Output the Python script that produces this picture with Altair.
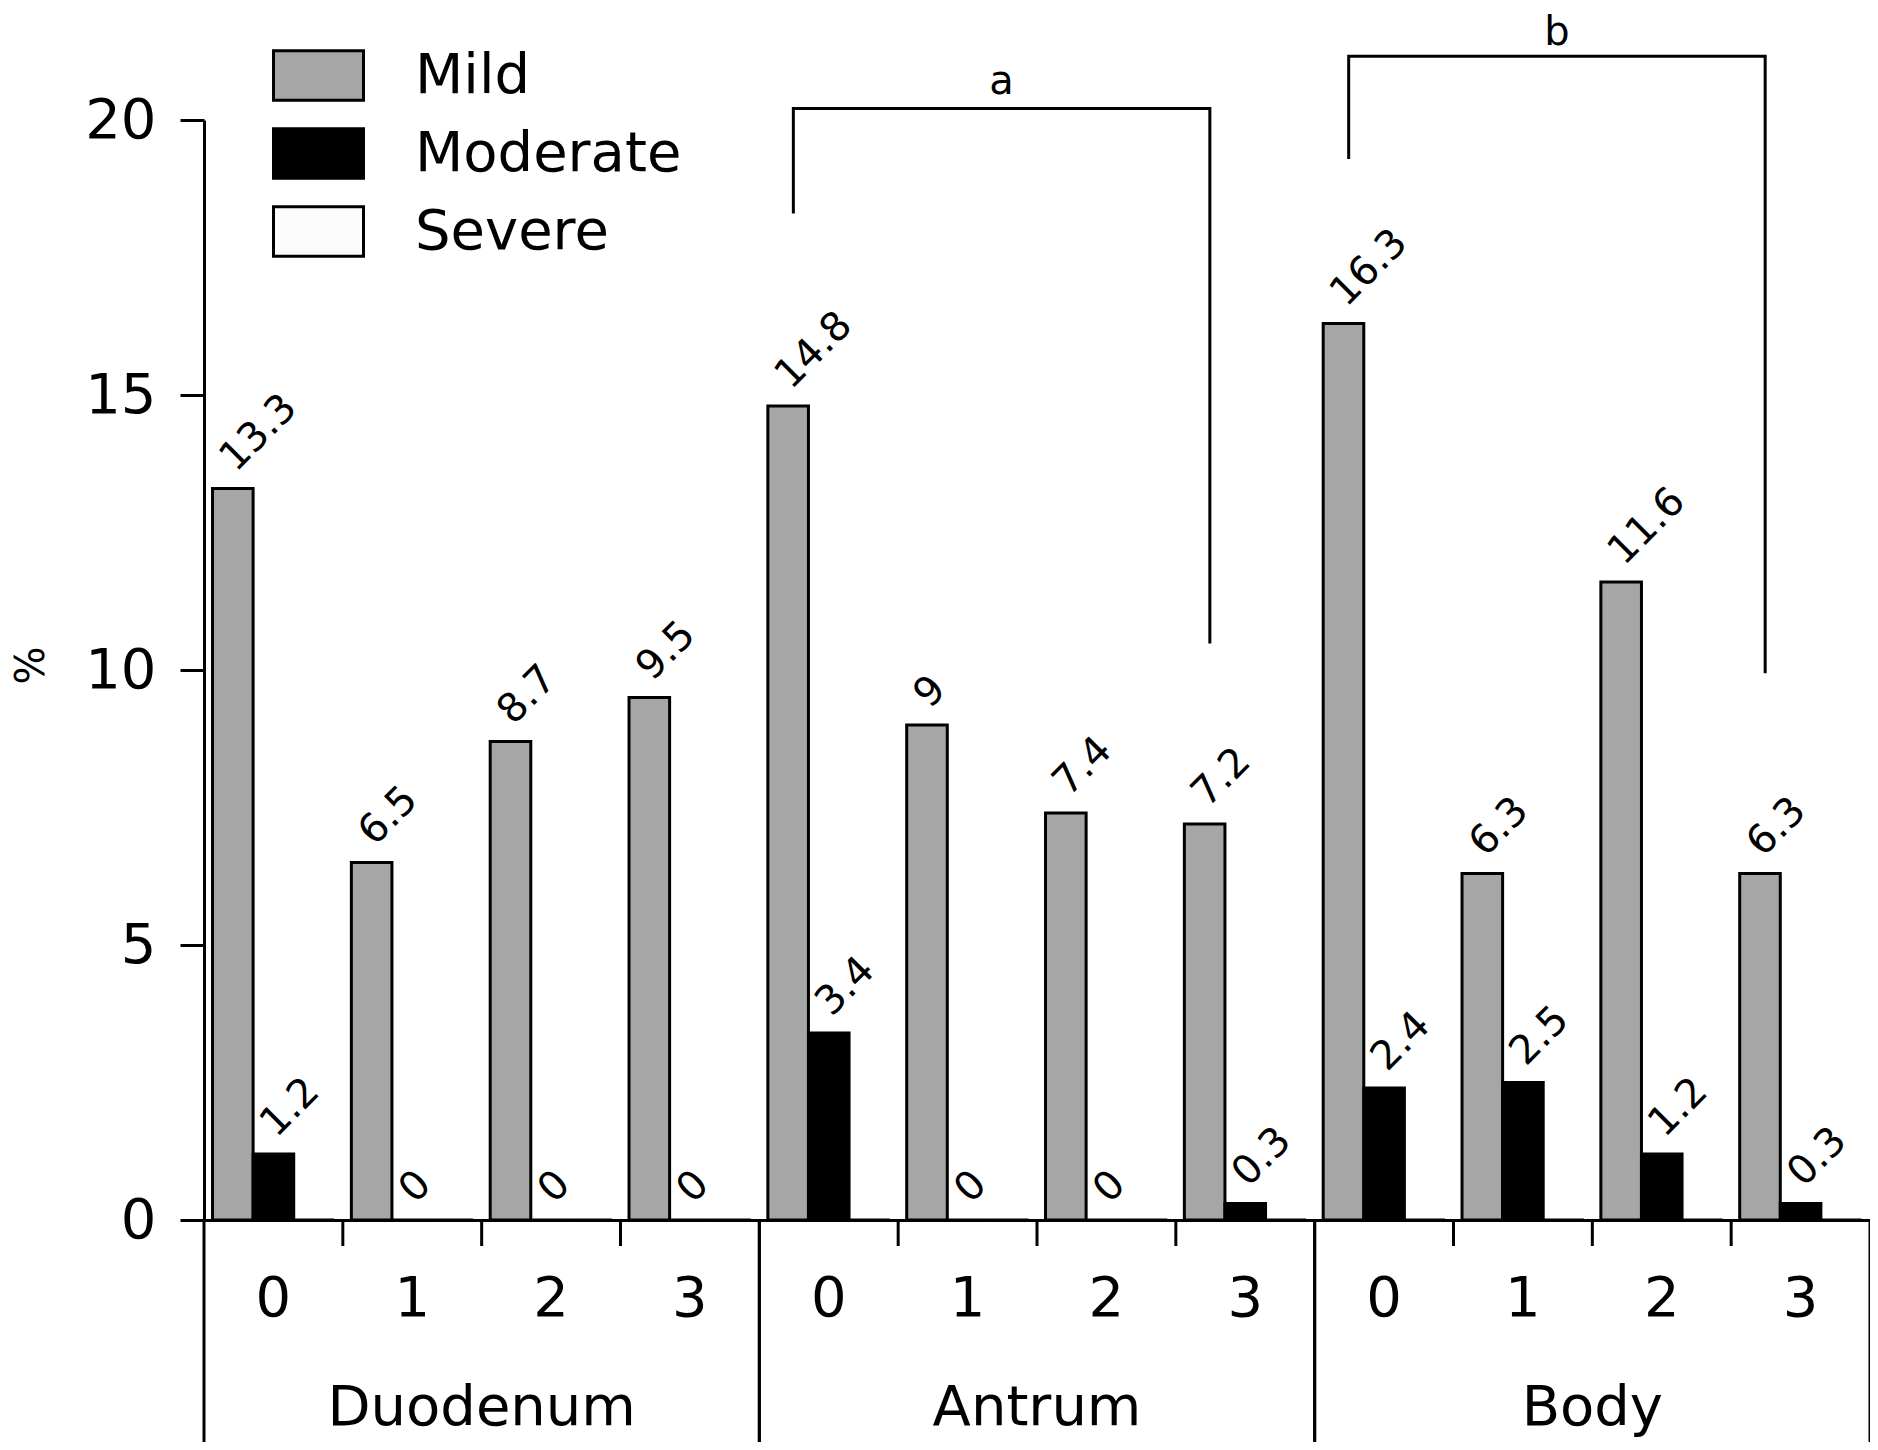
import altair as alt
import pandas as pd

# ---------------- data ----------------
sites = ["Duodenum", "Antrum", "Body"]
grades = ["0", "1", "2", "3"]
severities = ["Mild", "Moderate", "Severe"]
mild = [13.3, 6.5, 8.7, 9.5, 14.8, 9, 7.4, 7.2, 16.3, 6.3, 11.6, 6.3]
moderate = [1.2, 0, 0, 0, 3.4, 0, 0, 0.3, 2.4, 2.5, 1.2, 0.3]
severe = [0, 0, 0, 0, 0, 0, 0, 0, 0, 0, 0, 0]
colors = ["#a6a6a6", "#000000", "#fcfcfc"]
y_ticks = [0, 5, 10, 15, 20]

bracket_names = ["a", "b"]
bracket_from = ["Antrum|0", "Body|0"]
bracket_to = ["Antrum|3", "Body|3"]
bracket_mid = ["Antrum|1", "Body|1"]
bracket_top = [20.21, 21.16]
bracket_from_end = [18.30, 19.29]
bracket_to_end = [10.48, 9.94]
bracket_text_y = [20.47, 21.36]

# ---------------- tables ----------------
cells = [f"{s}|{g}" for s in sites for g in grades]
cell_site = [s for s in sites for g in grades]
cell_grade = [g for s in sites for g in grades]

rows = []
for sev, vals in zip(severities, [mild, moderate, severe]):
    for c, v in zip(cells, vals):
        rows.append({"cell": c, "severity": sev, "value": v, "label": f"{v:g}"})
bars_df = pd.DataFrame(rows)
shown_df = bars_df[bars_df["severity"] != "Severe"]

cells_df = pd.DataFrame({"cell": cells, "site": cell_site, "grade": cell_grade, "base": 0})

br_rows = []
for n, a, b, t, ea, eb in zip(bracket_names, bracket_from, bracket_to, bracket_top,
                              bracket_from_end, bracket_to_end):
    br_rows += [
        {"br": n, "k": 0, "cell": a, "v": ea},
        {"br": n, "k": 1, "cell": a, "v": t},
        {"br": n, "k": 2, "cell": b, "v": t},
        {"br": n, "k": 3, "cell": b, "v": eb},
    ]
br_df = pd.DataFrame(br_rows)
brt_df = pd.DataFrame({"cell": bracket_mid, "name": bracket_names, "v": bracket_text_y})

# ---------------- layout ----------------
W, H = 1666, 1100
FONT = "DejaVu Sans"

xscale = alt.Scale(domain=cells, paddingInner=0, paddingOuter=0)
xaxis = alt.Axis(title=None, ticks=False, labelExpr="split(datum.label, '|')[1]",
                 labelAngle=0, labelFontSize=56, labelFont=FONT, labelColor="black",
                 labelPadding=78, labelBaseline="middle", domainColor="black",
                 domainWidth=3, grid=False)
yscale = alt.Scale(domain=[0, 20], nice=False, zero=True)
yaxis = alt.Axis(title="%", values=y_ticks, tickSize=24, tickWidth=3, tickColor="black",
                 domainColor="black", domainWidth=3, labelFontSize=56, labelFont=FONT,
                 labelColor="black", labelPadding=24, grid=False,
                 titleFontSize=40, titleFont=FONT, titleFontWeight="normal",
                 titleColor="black", titleAngle=270, titleX=-173, titleY=545,
                 titleAlign="center", titleBaseline="middle")

X = alt.X("cell:N", scale=xscale, axis=xaxis)
XO = alt.XOffset("severity:N", scale=alt.Scale(domain=severities, paddingInner=0,
                                                 paddingOuter=0.21))

bars = alt.Chart(bars_df).mark_bar(stroke="black", strokeWidth=3).encode(
    x=X,
    xOffset=XO,
    y=alt.Y("value:Q", scale=yscale, axis=yaxis, stack=None),
    color=alt.Color("severity:N",
                    scale=alt.Scale(domain=severities, range=colors),
                    legend=alt.Legend(orient="none", legendX=68, legendY=-91, title=None,
                                      direction="vertical", padding=0,
                                      symbolType="M-1,-0.55H1V0.55H-1Z", symbolSize=8100,
                                      symbolStrokeColor="black", symbolStrokeWidth=3,
                                      symbolOpacity=1, labelFontSize=56, labelFont=FONT,
                                      labelColor="black", labelOffset=50, labelLimit=0,
                                      rowPadding=-5)),
)

labels = alt.Chart(shown_df).mark_text(angle=315, align="left", baseline="alphabetic",
                                       dx=13, dy=-9, fontSize=40, font=FONT,
                                       color="black").encode(
    x=X,
    xOffset=XO,
    y=alt.Y("value:Q", scale=yscale, axis=yaxis),
    text="label:N",
)

Ybase = alt.Y("base:Q", scale=yscale, axis=yaxis)

short_ticks = alt.Chart(cells_df).transform_filter("datum.grade != '0'").mark_rule(
    color="black", strokeWidth=3).encode(
    x=alt.X("cell:N", scale=xscale, axis=xaxis, bandPosition=0),
    y=Ybase, y2=alt.value(H + 26))

long_start = alt.Chart(cells_df).transform_filter("datum.grade == '0'").mark_rule(
    color="black", strokeWidth=3).encode(
    x=alt.X("cell:N", scale=xscale, axis=xaxis, bandPosition=0),
    y=Ybase, y2=alt.value(H + 230))

long_end = alt.Chart(cells_df).transform_filter("datum.grade == '3'").mark_rule(
    color="black", strokeWidth=3).encode(
    x=alt.X("cell:N", scale=xscale, axis=xaxis, bandPosition=1),
    y=Ybase, y2=alt.value(H + 230))

site_text = alt.Chart(cells_df).transform_filter("datum.grade == '2'").mark_text(
    fontSize=56, font=FONT, color="black", align="center", baseline="alphabetic").encode(
    x=alt.X("cell:N", scale=xscale, axis=xaxis, bandPosition=0),
    y=alt.value(H + 205),
    text="site:N")

brackets = alt.Chart(br_df).mark_line(color="black", strokeWidth=3, strokeCap="butt",
                                      strokeJoin="miter").encode(
    x=alt.X("cell:N", scale=xscale, axis=xaxis, bandPosition=0.245),
    y=alt.Y("v:Q", scale=yscale, axis=yaxis),
    detail="br:N",
    order="k:Q")

bracket_text = alt.Chart(brt_df).mark_text(fontSize=40, font=FONT, color="black",
                                           align="center", baseline="alphabetic").encode(
    x=alt.X("cell:N", scale=xscale, axis=xaxis, bandPosition=0.745),
    y=alt.Y("v:Q", scale=yscale, axis=yaxis),
    text="name:N")

chart = alt.layer(bars, labels, short_ticks, long_start, long_end, site_text,
                  brackets, bracket_text).properties(
    width=W, height=H,
    autosize=alt.AutoSizeParams(type="none"),
    padding={"left": 196, "top": 112, "right": 0, "bottom": 222},
    background="white",
).configure(font=FONT).configure_view(strokeWidth=0, stroke="transparent").configure_axis(
    grid=False
)

chart.save("out.html", embed_options={"renderer": "svg", "actions": False})
